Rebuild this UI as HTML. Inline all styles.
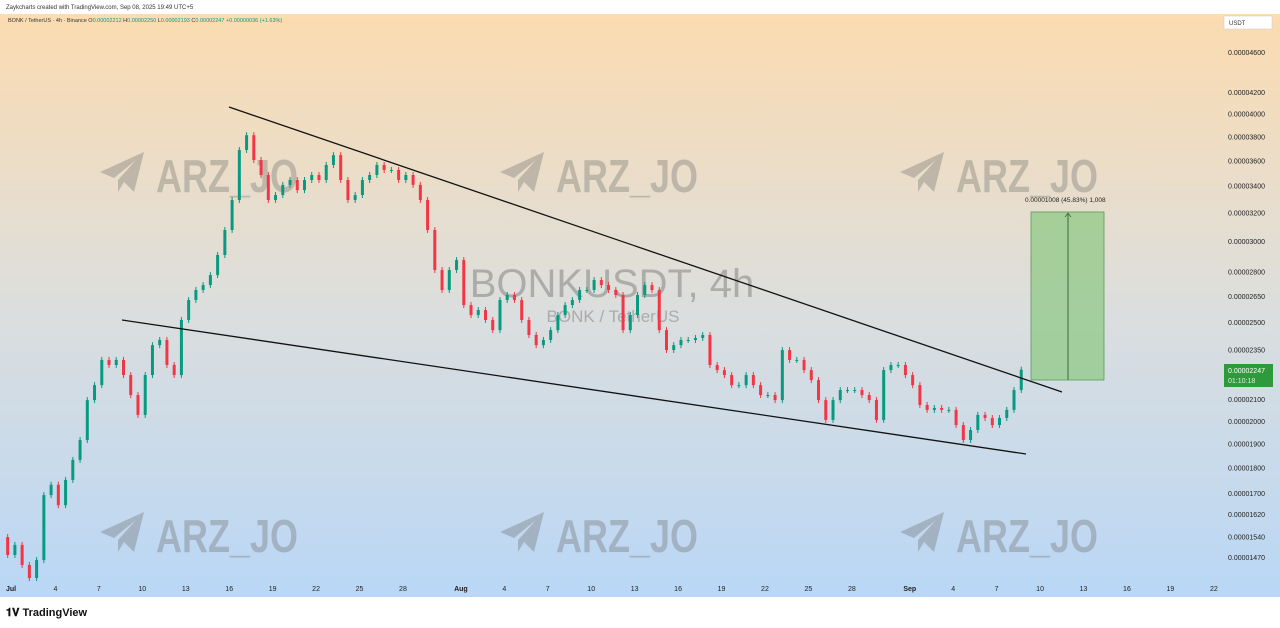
<!DOCTYPE html>
<html><head><meta charset="utf-8"><style>
body{margin:0;width:1280px;height:628px;overflow:hidden;background:#fff;font-family:"Liberation Sans",sans-serif}
svg{display:block}
</style></head><body>
<svg width="1280" height="628" id="chart">
<defs>
<linearGradient id="bg" x1="0" y1="0" x2="0" y2="1">
<stop offset="0" stop-color="#fcdcb0"/><stop offset="0.5" stop-color="#dcdedd"/><stop offset="1" stop-color="#b9d7f6"/>
</linearGradient>
<g id="wm"><path d="M0 20 L44 0 L34 40 L24 30 L18 40 L18 28 L36 8 L14 26 Z" fill="rgba(110,110,110,0.35)"/></g>
</defs>
<text x="6" y="9" font-size="6" fill="#333">Zaykcharts created with TradingView.com, Sep 08, 2025 19:49 UTC+5</text>
<rect x="0" y="14" width="1280" height="583" fill="url(#bg)"/>
<text x="8" y="22" font-size="5.5" fill="#333">BONK / TetherUS · 4h · Binance <tspan fill="#333">O</tspan><tspan fill="#089981">0.00002212</tspan> H<tspan fill="#089981">0.00002250</tspan> L<tspan fill="#089981">0.00002193</tspan> C<tspan fill="#089981">0.00002247</tspan> <tspan fill="#089981">+0.00000036 (+1.63%)</tspan></text>
<g id="wms"></g>
<text x="612" y="297" font-size="40" fill="rgba(110,110,110,0.45)" text-anchor="middle">BONKUSDT, 4h</text>
<text x="613" y="322" font-size="17" fill="rgba(110,110,110,0.45)" text-anchor="middle">BONK / TetherUS</text>
<g id="candles"></g>
<line x1="229" y1="107" x2="1062" y2="392" stroke="#111" stroke-width="1.3"/>
<line x1="122" y1="320" x2="1026" y2="454" stroke="#111" stroke-width="1.3"/>
<rect x="1031" y="212" width="73" height="168" fill="rgba(140,200,130,0.7)" stroke="#5a9a55" stroke-width="0.8"/>
<line x1="1068" y1="213" x2="1068" y2="380" stroke="#3a6a3a" stroke-width="1"/>
<path d="M1065 217 L1068 213 L1071 217" fill="none" stroke="#3a6a3a" stroke-width="0.8"/>
<text x="1025" y="202" font-size="6.5" fill="#222">0.00001008 (45.83%) 1,008</text>
<g id="yaxis"></g>
<rect x="1224" y="16" width="48" height="13" fill="#fff" stroke="#ccc" stroke-width="0.5"/>
<text x="1229" y="25" font-size="6" fill="#333">USDT</text>
<rect x="1224" y="364" width="49" height="23" fill="#2e9a3c"/>
<text x="1228" y="373" font-size="7" fill="#fff">0.00002247</text>
<text x="1228" y="383" font-size="7" fill="#e0f0e0">01:10:18</text>
<g id="xaxis"></g>
<text x="6" y="616" font-size="11" font-weight="bold" fill="#111">𝟏𝐕 TradingView</text>
</svg>
<script>
const closes=[14.79,15.13,14.46,14.04,14.62,16.93,17.33,16.55,17.52,18.33,19.17,20.98,21.70,22.97,22.71,22.97,22.20,21.22,20.29,22.20,23.75,24.03,22.71,22.20,25.14,26.30,26.90,27.20,27.82,29.11,30.80,32.96,36.90,38.15,36.07,34.87,32.96,33.33,34.10,34.48,33.70,34.48,34.87,34.48,35.67,36.47,34.48,32.96,33.33,34.48,34.87,35.67,35.27,35.27,34.48,34.87,34.10,32.96,30.80,28.14,26.90,28.14,28.78,26.00,25.42,25.71,25.14,24.57,26.30,26.60,26.30,25.14,24.30,23.75,24.03,24.57,25.42,26.00,26.30,26.90,26.90,27.51,27.20,26.90,26.60,24.57,25.42,26.60,27.20,26.90,24.57,23.49,23.75,24.03,24.03,24.14,24.30,22.71,22.45,22.20,21.70,21.70,22.20,21.70,21.22,21.22,20.98,23.49,22.97,22.97,22.45,21.95,20.98,20.06,20.98,21.46,21.46,21.46,21.22,20.98,20.06,22.45,22.71,22.71,22.20,21.70,20.75,20.52,20.61,20.52,20.52,19.83,19.17,19.61,20.29,20.15,19.83,20.15,20.52,21.46,22.47];
const firstOpen=15.40;
const priceTicks=[46,42,40,38,36,34,32,30,28,26.5,25,23.5,21,20,19,18,17,16.2,15.4,14.7];
const dayTicks=[0,3,6,9,12,15,18,21,24,27,31,34,37,40,43,46,49,52,55,58,62,65,68,71,74,77,80,83];
const dayLabels=["Jul","4","7","10","13","16","19","22","25","28","Aug","4","7","10","13","16","19","22","25","28","Sep","4","7","10","13","16","19","22"];
const NS="http://www.w3.org/2000/svg";
function yS(p){return 444-443*Math.log(p/19);}
function xS(d){return 12+d*14.48;}
function mk(t,a,parent){const e=document.createElementNS(NS,t);for(const k in a)e.setAttribute(k,a[k]);parent.appendChild(e);return e;}
const cg=document.getElementById('candles');
closes.forEach((c,i)=>{
 const o=i?closes[i-1]:firstOpen;
 const x=xS(i*0.5-0.3);
 const col=c>=o?'#089981':'#f23645';
 const y1=yS(Math.max(o,c)),y2=yS(Math.min(o,c));
 const w=mk('line',{x1:x,x2:x,y1:y1-3,y2:y2+3,stroke:col,'stroke-width':1},cg);
 
 
 const b=mk('rect',{x:x-1.5,y:y1,width:3,height:Math.max(1,y2-y1),fill:col},cg);
 
 
});
const ya=document.getElementById('yaxis');
priceTicks.forEach(p=>{
 const t=mk('text',{x:1228,y:yS(p)+2.5,'font-size':7,fill:'#222'},ya);
 t.textContent='0.0000'+String(Math.round(p*100)).padStart(4,'0');
 
 
});
const xa=document.getElementById('xaxis');
dayTicks.forEach((d,i)=>{
 const t=mk('text',{x:xS(d)+(i==0?-6:0),y:591,'font-size':7,fill:'#222','text-anchor':i==0?'start':'middle','font-weight':isNaN(+dayLabels[i])?'bold':'normal'},xa);
 t.textContent=dayLabels[i];
 
 
});
const wg=document.getElementById('wms');
[[100,150],[500,150],[900,150],[100,510],[500,510],[900,510]].forEach(([x,y])=>{
 const u=mk('use',{href:'#wm',x:x,y:y+2},wg);
 
 
 const t=mk('text',{x:x+56,y:y+42,'font-size':46,'font-weight':'bold',fill:'rgba(110,110,110,0.35)',textLength:142,lengthAdjust:'spacingAndGlyphs'},wg);
 t.textContent='ARZ_JO';
 
 
});
</script>
</body></html>
